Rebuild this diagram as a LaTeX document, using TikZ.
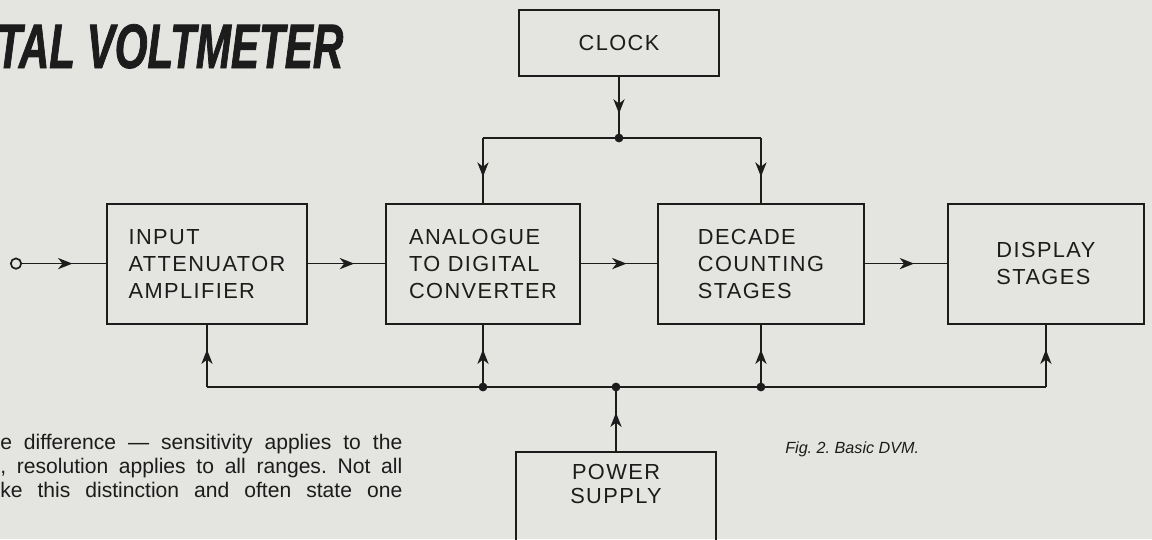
\documentclass[tikz,border=0pt]{standalone}
\usepackage{fontspec}
\setmainfont{Liberation Sans}
\newfontfamily\bloquefont[LetterSpace=6.5]{Liberation Sans}
\newfontfamily\titulofont[FakeStretch=0.67,FakeBold=1.2]{Liberation Sans}
\usepackage{tikz}
\usetikzlibrary{positioning, arrows.meta, decorations.markings}
\definecolor{papel}{RGB}{228,228,225}
\definecolor{tinta}{RGB}{28,28,28}
\frenchspacing

\begin{document}
\begin{tikzpicture}[
			node distance = 2cm,
			bloque/.style = {
				rectangle,
				draw=tinta,
				line width=1.4pt,
				align=left,
				text=tinta,
				font=\bloquefont\fontsize{15.5}{19.2}\selectfont,
				minimum width=5cm,
				minimum height=3cm,
				inner sep=4pt
			},
			linea/.style = {draw=tinta, line width=1.2pt},
			flecha/.style = {linea, postaction={decorate},
				decoration={markings, mark=at position 0.6 with {\arrow{Stealth[length=3.6mm, width=2.8mm, inset=1.1mm]}}}},
			punto/.style = {circle, fill=tinta, inner sep=0pt, minimum size=2.2mm}
			]
			
			\fill[papel] (0,0) rectangle (28.8,-13.475);
			\useasboundingbox (0,0) rectangle (28.8,-13.475);
			
			\node[bloque] (iaa) at (5.175,-6.59) {INPUT\\ATTENUATOR\\AMPLIFIER};
			\node[bloque, minimum width=4.85cm, right=1.925cm of iaa] (adc) {ANALOGUE\\TO DIGITAL\\CONVERTER};
			\node[bloque, minimum width=5.15cm, right=1.9cm of adc] (dcs) {DECADE\\COUNTING\\STAGES};
			\node[bloque, minimum width=4.9cm, right=2.05cm of dcs] (disp) {DISPLAY\\STAGES};
			
			\node[bloque, minimum height=1.65cm] (reloj) at (15.475,-1.075) {CLOCK};
			\node[bloque, align=center, anchor=north, inner ysep=8.5pt, text depth=3cm,
				font=\bloquefont\fontsize{15.5}{17.5}\selectfont] (fuente) at (15.4,-11.275) {POWER\\SUPPLY};
			
			\node[circle, draw=tinta, line width=1.2pt, minimum size=2.6mm, inner sep=0pt] (entrada) at (0.4,-6.59) {};
			
			% senal
			\draw[flecha] (entrada) -- (iaa);
			\draw[flecha] (iaa) -- (adc);
			\draw[flecha] (adc) -- (dcs);
			\draw[flecha] (dcs) -- (disp);
			
			% reloj
			\coordinate (nivelreloj) at (0,-3.45);
			\coordinate (jreloj) at (reloj.south |- nivelreloj);
			\draw[flecha] (reloj.south) -- (jreloj);
			\draw[linea] (adc.north |- nivelreloj) -- (dcs.north |- nivelreloj);
			\draw[flecha] (adc.north |- nivelreloj) -- (adc.north);
			\draw[flecha] (dcs.north |- nivelreloj) -- (dcs.north);
			\node[punto] (preloj) at (jreloj) {};
			
			% alimentacion
			\coordinate (nivelbus) at (0,-9.675);
			\draw[linea] (iaa.south |- nivelbus) -- (disp.south |- nivelbus);
			\foreach \b in {iaa, adc, dcs, disp}
			\draw[flecha] (\b.south |- nivelbus) -- (\b.south);
			\draw[flecha] (fuente.north) -- (fuente.north |- nivelbus);
			\node[punto] (padc) at (adc.south |- nivelbus) {};
			\node[punto] (pfuente) at (fuente.north |- nivelbus) {};
			\node[punto] (pdcs) at (dcs.south |- nivelbus) {};
			
			% textos de la pagina
			\node[anchor=base west, inner sep=0pt, text=tinta, font=\titulofont\bfseries\itshape\fontsize{44.7}{48}\selectfont] (titulo) at (-0.1,-1.7) {TAL VOLTMETER};
			\node[anchor=north west, inner sep=0pt, text=tinta, font=\fontsize{15}{17}\selectfont] (texto) at (0,-10.85)
			{\parbox{10.05cm}{\parfillskip=0pt e difference --- sensitivity applies to the\linebreak , resolution applies to all ranges. Not all\linebreak ke this distinction and often state one\par}};
			\node[anchor=base west, inner sep=0pt, text=tinta, font=\itshape\fontsize{11.5}{13}\selectfont] (leyenda) at (19.625,-11.33) {Fig. 2. Basic DVM.};
			
		\end{tikzpicture}
\end{document}
